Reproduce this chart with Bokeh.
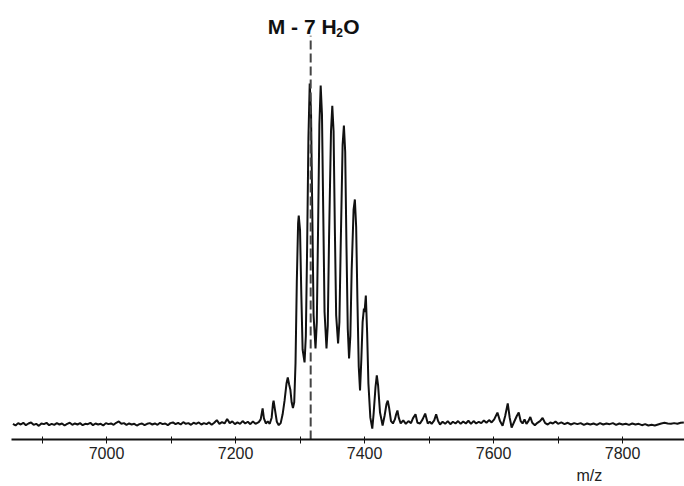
from bokeh.plotting import figure
from bokeh.models import Range1d, FixedTicker, Label, ColumnDataSource, Title
from bokeh.embed import file_html
from bokeh.resources import INLINE

# ---- data (m/z, relative intensity; tallest peak = 100) ----
mz = [6855, 6859, 6863, 6867, 6871, 6875, 6879, 6883, 6887, 6891, 6895, 6899,
      6903, 6907, 6911, 6915, 6919, 6923, 6927, 6931, 6935, 6939, 6943, 6947,
      6951, 6955, 6959, 6963, 6967, 6971, 6975, 6979, 6983, 6987, 6991, 6995,
      6999, 7003, 7007, 7011, 7015, 7019, 7023, 7027, 7031, 7035, 7039, 7043,
      7047, 7051, 7055, 7059, 7063, 7067, 7071, 7075, 7079, 7083, 7087, 7091,
      7095, 7099, 7103, 7107, 7111, 7115, 7119, 7123, 7127, 7131, 7135, 7139,
      7143, 7147, 7151, 7155, 7159, 7163, 7167, 7171, 7175, 7179, 7183, 7187,
      7191, 7195, 7199, 7203, 7207, 7211, 7215, 7219, 7223, 7227, 7231, 7236,
      7239, 7242, 7244, 7247, 7250, 7253, 7256, 7258, 7259, 7261, 7264, 7267,
      7270, 7273, 7276, 7279, 7281, 7283, 7285, 7287, 7289, 7291, 7293, 7295,
      7297, 7298, 7300, 7302, 7304, 7307, 7309, 7311, 7313, 7315, 7317, 7319,
      7321, 7324, 7326, 7328, 7330, 7332, 7334, 7336, 7338, 7341, 7343, 7345,
      7348, 7350, 7352, 7354, 7356, 7359, 7361, 7363, 7366, 7368, 7370, 7372,
      7374, 7376, 7378, 7380, 7383, 7385, 7387, 7389, 7391, 7393, 7395, 7397,
      7399, 7400, 7402, 7404, 7406, 7409, 7412, 7414, 7417, 7419, 7421, 7424,
      7428, 7431, 7434, 7436, 7438, 7441, 7444, 7447, 7449, 7451, 7453, 7456,
      7460, 7464, 7468, 7472, 7475, 7479, 7482, 7486, 7490, 7494, 7498, 7501,
      7504, 7508, 7511, 7514, 7517, 7521, 7525, 7529, 7533, 7537, 7541, 7545,
      7549, 7553, 7557, 7561, 7565, 7569, 7573, 7577, 7581, 7585, 7589, 7593,
      7597, 7601, 7606, 7610, 7614, 7618, 7622, 7625, 7628, 7632, 7636, 7639,
      7642, 7645, 7648, 7651, 7654, 7657, 7660, 7664, 7668, 7672, 7676, 7680,
      7684, 7688, 7692, 7696, 7700, 7705, 7710, 7715, 7720, 7725, 7730, 7735,
      7740, 7745, 7750, 7755, 7760, 7765, 7770, 7775, 7780, 7785, 7790, 7795,
      7800, 7805, 7810, 7815, 7820, 7825, 7830, 7835, 7840, 7845, 7850, 7855,
      7860, 7865, 7870, 7875, 7880, 7885, 7890, 7895]

intensity = [0.2, -0.3, 0.4, 0.0, 0.5, -0.2, 0.3, 0.6, -0.1, 0.2, -0.4, 0.3,
             0.1, 0.5, -0.2, 0.2, -0.1, 0.4, 0.0, 0.3, -0.3, 0.2, 0.5, -0.1,
             0.3, 0.0, 0.4, -0.2, 0.2, 0.1, 0.5, -0.2, 0.3, 0.0, 0.2, -0.3,
             0.4, 0.1, 0.3, -0.1, 0.5, 0.9, 0.2, 0.4, -0.1, 0.3, 0.0, 0.2,
             -0.3, 0.1, 0.3, -0.2, 0.2, 0.4, 0.0, 0.3, -0.1, 0.5, 0.1, 0.3,
             -0.2, 0.4, 0.6, 0.1, 0.5, 0.0, 0.7, 0.2, 0.4, -0.1, 0.5, 0.2,
             0.6, 0.0, 0.4, 0.1, 0.6, -0.1, 0.5, 1.3, 0.2, 0.7, 0.3, 1.6,
             0.4, 0.9, 0.1, 0.6, 0.2, 1.0, 0.3, 0.8, 0.1, 0.9, 0.2, 0.7,
             1.5, 4.7, 1.8, 0.3, 0.9, 0.2, 2.0, 6.0, 7.0, 4.5, 0.8, -0.2,
             0.4, 3.0, 7.0, 12.0, 13.8, 11.8, 10.2, 6.5, 4.8, 6.5, 18.0, 42.0,
             59.0, 61.3, 57.0, 38.0, 22.0, 18.2, 26.0, 52.0, 84.0, 100.0, 92.0, 62.0,
             32.0, 22.3, 30.0, 58.0, 88.0, 99.4, 91.0, 62.0, 33.0, 22.3, 29.0, 55.0,
             86.0, 93.5, 86.0, 57.0, 32.0, 23.8, 30.0, 52.0, 82.0, 87.7, 80.0, 52.0,
             28.0, 19.4, 26.0, 45.0, 63.0, 66.0, 58.0, 36.0, 17.0, 10.0, 19.0, 30.0,
             34.0, 33.0, 37.8, 27.0, 12.0, 2.0, -1.2, 3.0, 11.0, 14.4, 11.5, 3.5,
             -0.3, 2.5, 6.0, 7.0, 5.0, 1.0, 0.3, 1.5, 3.0, 4.1, 2.0, 0.3,
             1.2, 0.2, 1.0, 0.4, 1.8, 3.0, 0.5, 0.3, 1.5, 3.2, 0.3, 0.8,
             0.2, 1.2, 3.0, 1.0, 0.0, 0.8, 0.2, 1.0, 0.1, 0.8, 0.3, 1.0,
             0.2, 0.9, 0.3, 1.1, 0.2, 1.0, 0.3, 0.8, 0.4, 1.2, 0.5, 1.3,
             0.6, 1.5, 3.5, 1.0, -0.4, 2.5, 6.2, 2.0, -0.9, 0.8, 2.5, 3.5,
             1.0, 0.3, 1.5, 0.2, 1.0, 2.2, 0.5, -0.2, 0.5, 1.0, 1.9, 0.4,
             0.0, 0.6, 0.3, 0.9, 0.2, 0.6, 0.1, 0.5, 0.0, 0.4, 0.1, 0.4,
             -0.1, 0.3, 0.0, 0.3, -0.1, 0.4, 0.0, 0.3, 0.1, 0.4, -0.1, 0.3,
             0.0, 0.2, -0.1, 0.3, 0.0, 0.2, -0.2, 0.1, -0.3, -0.1, -0.3, 0.0,
             0.3, 0.5, 0.3, 0.2, 0.4, 0.2, 0.5, 0.6]

x_ticks = [7000, 7200, 7400, 7600, 7800]
x_minor_ticks = [6900, 7100, 7300, 7500, 7700]
marker_mz = 7316.5
marker_label = "M - 7 H"
marker_sub = "2"
marker_tail = "O"
x_label = "m/z"

src = ColumnDataSource(data=dict(mz=mz, intensity=intensity))

p = figure(width=684, height=486, output_backend="svg", toolbar_location=None,
           x_range=Range1d(6852.7, 7896.0), y_range=Range1d(-4.4, 122.0),
           y_axis_location=None, min_border_left=11, min_border_right=0,
           min_border_top=8, min_border_bottom=47)
p.grid.visible = False
p.outline_line_color = None
p.background_fill_color = "white"
p.border_fill_color = "white"

p.line("mz", "intensity", source=src, line_color="#111111", line_width=2)

# dashed marker line
p.segment(x0=[marker_mz], y0=[-4.4], x1=[marker_mz], y1=[114.0],
          line_color="#444444", line_width=2, line_dash="9 4")

ax = p.xaxis[0]
ax.ticker = FixedTicker(ticks=x_ticks, minor_ticks=x_minor_ticks)
ax.axis_line_width = 2
ax.axis_line_color = "#111111"
ax.major_tick_line_color = "#111111"
ax.minor_tick_line_color = "#111111"
ax.major_tick_in = 3
ax.major_tick_out = 4
ax.minor_tick_in = 3
ax.minor_tick_out = 4
ax.major_label_text_font = "Liberation Sans"
ax.major_label_text_font_size = "16px"
ax.major_label_text_color = "#222222"
ax.major_label_standoff = 3

font = "Liberation Sans"
p.add_layout(Label(x=7250.0, y=116.8, text=marker_label, text_font=font,
                   text_font_size="21px", text_font_style="bold",
                   text_color="#111111", text_align="left",
                   text_baseline="alphabetic"))
p.add_layout(Label(x=7356.0, y=115.0, text=marker_sub, text_font=font,
                   text_font_size="12px", text_font_style="bold",
                   text_color="#111111", text_align="left",
                   text_baseline="alphabetic"))
p.add_layout(Label(x=7367.0, y=116.8, text=marker_tail, text_font=font,
                   text_font_size="21px", text_font_style="bold",
                   text_color="#111111", text_align="left",
                   text_baseline="alphabetic"))

# axis name, placed to the right like in the original
p.add_layout(Title(text=x_label, align="left", offset=565, standoff=6,
                   text_font=font, text_font_size="16px",
                   text_font_style="normal", text_color="#222222"), "below")

open("out.html", "w").write(file_html(p, INLINE))
